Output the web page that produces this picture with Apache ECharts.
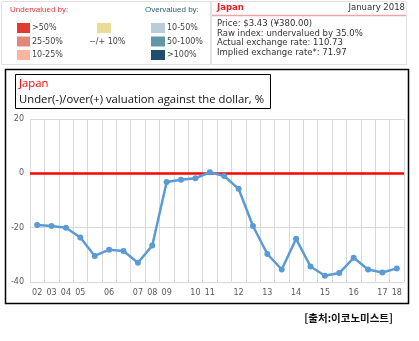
<!DOCTYPE html>
<html>
<head>
<meta charset="utf-8">
<script src="https://cdn.jsdelivr.net/npm/echarts@6/dist/echarts.min.js"></script>
<style>
  html, body { margin: 0; padding: 0; background: #ffffff; }
  #chart { width: 419px; height: 341px; }
</style>
</head>
<body>
<div id="chart"></div>
<script>
// Survey years (blank slots are the mid-year surveys)
const categories = ["02","03","04","05","","06","","07","08","09","","10","11","","12","","13","","14","","15","","16","","17","18"];
// Under(-)/over(+) valuation of the yen against the dollar, %
const valuation = [-19.0,-19.4,-20.0,-23.6,-30.4,-28.1,-28.6,-32.9,-26.6,-3.2,-2.4,-1.8,0.4,-1.0,-5.7,-19.4,-29.7,-35.4,-24.1,-34.3,-37.7,-36.7,-31.1,-35.4,-36.5,-35.0];
const yTicks = { min: -40, max: 20, interval: 20 };

const legendUnder = [
  { label: ">50%", color: "#e23c30" },
  { label: "25-50%", color: "#e2887a" },
  { label: "10-25%", color: "#fbb6a3" }
];
const legendOver = [
  { label: "10-50%", color: "#b8cdd7" },
  { label: "50-100%", color: "#5e97a5" },
  { label: ">100%", color: "#1b4f6d" }
];
const infoLines = [
  "Price: $3.43 (\u00a5380.00)",
  "Raw index: undervalued by 35.0%",
  "Actual exchange rate: 110.73",
  "Implied exchange rate*: 71.97"
];

const smallFont = "DejaVu Sans";
const g = [];

// top info panels
g.push({ type: "rect", shape: { x: 1.5, y: 1.5, width: 209, height: 63 }, style: { fill: "#fff", stroke: "#e2e2e2", lineWidth: 1 } });
g.push({ type: "rect", shape: { x: 211.5, y: 1.5, width: 195, height: 63 }, style: { fill: "#fff", stroke: "#e2e2e2", lineWidth: 1 } });
g.push({ type: "text", x: 10, y: 9.5, style: { text: "Undervalued by:", fill: "#e8353a", font: "8px 'Liberation Sans'", textVerticalAlign: "middle" } });
g.push({ type: "text", x: 145, y: 9.5, style: { text: "Overvalued by:", fill: "#2c5f78", font: "8px 'Liberation Sans'", textVerticalAlign: "middle" } });
legendUnder.forEach((d, i) => {
  const y = 23 + i * 13.5;
  g.push({ type: "rect", shape: { x: 17, y: y, width: 13, height: 10 }, style: { fill: d.color } });
  g.push({ type: "text", x: 32, y: y + 5, style: { text: d.label, fill: "#444", font: "8px " + smallFont, textVerticalAlign: "middle" } });
});
g.push({ type: "rect", shape: { x: 97, y: 23, width: 14, height: 10 }, style: { fill: "#e8dc97" } });
g.push({ type: "text", x: 89, y: 41.5, style: { text: "\u2212/+ 10%", fill: "#444", font: "8px " + smallFont, textVerticalAlign: "middle" } });
legendOver.forEach((d, i) => {
  const y = 23 + i * 13.5;
  g.push({ type: "rect", shape: { x: 151, y: y, width: 14, height: 10 }, style: { fill: d.color } });
  g.push({ type: "text", x: 167, y: y + 5, style: { text: d.label, fill: "#444", font: "8px " + smallFont, textVerticalAlign: "middle" } });
});
g.push({ type: "text", x: 217, y: 8, style: { text: "Japan", fill: "#e8201f", font: "bold 8.5px " + smallFont, textVerticalAlign: "middle" } });
g.push({ type: "text", x: 405, y: 8, style: { text: "January 2018", fill: "#333", font: "8.5px " + smallFont, textAlign: "right", textVerticalAlign: "middle" } });
g.push({ type: "line", shape: { x1: 212, y1: 15.5, x2: 406, y2: 15.5 }, style: { stroke: "#f4a3a3", lineWidth: 1.5 } });
infoLines.forEach((t, i) => {
  g.push({ type: "text", x: 217, y: 24 + i * 9.5, style: { text: t, fill: "#333", font: "8.5px " + smallFont, textVerticalAlign: "middle" } });
});

// chart frame and title box
g.push({ type: "rect", shape: { x: 5.5, y: 69.5, width: 403, height: 234 }, style: { fill: "none", stroke: "#000", lineWidth: 1.5 }, z: 10 });
g.push({ type: "rect", shape: { x: 15.5, y: 74.5, width: 255, height: 34 }, style: { fill: "#fff", stroke: "#000", lineWidth: 1 }, z: 10 });
g.push({ type: "text", x: 19, y: 84, style: { text: "Japan", fill: "#ff0000", font: "11.3px 'Open Sans'", textVerticalAlign: "middle" }, z: 11 });
g.push({ type: "text", x: 19, y: 100, style: { text: "Under(-)/over(+) valuation against the dollar, %", fill: "#111", font: "11.3px 'Open Sans'", textVerticalAlign: "middle" }, z: 11 });
g.push({ type: "text", x: 393, y: 318, style: { text: "[\ucd9c\ucc98:\uc774\ucf54\ub178\ubbf8\uc2a4\ud2b8]", fill: "#111", font: "bold 10.5px 'Noto Sans CJK KR'", textAlign: "right", textVerticalAlign: "middle" } });

const chart = echarts.init(document.getElementById("chart"), null, { renderer: "canvas" });
chart.setOption({
  animation: false,
  backgroundColor: "#ffffff",
  graphic: g,
  grid: { left: 30, right: 15, top: 119, bottom: 59 },
  xAxis: {
    type: "category",
    data: categories,
    boundaryGap: true,
    axisLine: { show: false },
    axisTick: { show: false },
    axisLabel: { interval: 0, color: "#595959", fontSize: 8, fontFamily: "DejaVu Sans", margin: 7 },
    splitLine: { show: true, interval: 0, lineStyle: { color: "#d9d9d9", width: 1 } }
  },
  yAxis: {
    type: "value",
    min: yTicks.min,
    max: yTicks.max,
    interval: yTicks.interval,
    axisLine: { show: false },
    axisTick: { show: false },
    axisLabel: { color: "#595959", fontSize: 8, fontFamily: "DejaVu Sans", margin: 6 },
    splitLine: { lineStyle: { color: "#d9d9d9", width: 1 } }
  },
  series: [{
    type: "line",
    data: valuation,
    symbol: "circle",
    symbolSize: 6,
    lineStyle: { color: "#5b9bd5", width: 2.5 },
    itemStyle: { color: "#5b9bd5" },
    z: 3,
    markLine: {
      silent: true,
      symbol: "none",
      label: { show: false },
      lineStyle: { color: "#ff0000", width: 2.5, type: "solid" },
      data: [{ yAxis: 0 }],
      z: 2
    }
  }]
});
</script>
</body>
</html>
